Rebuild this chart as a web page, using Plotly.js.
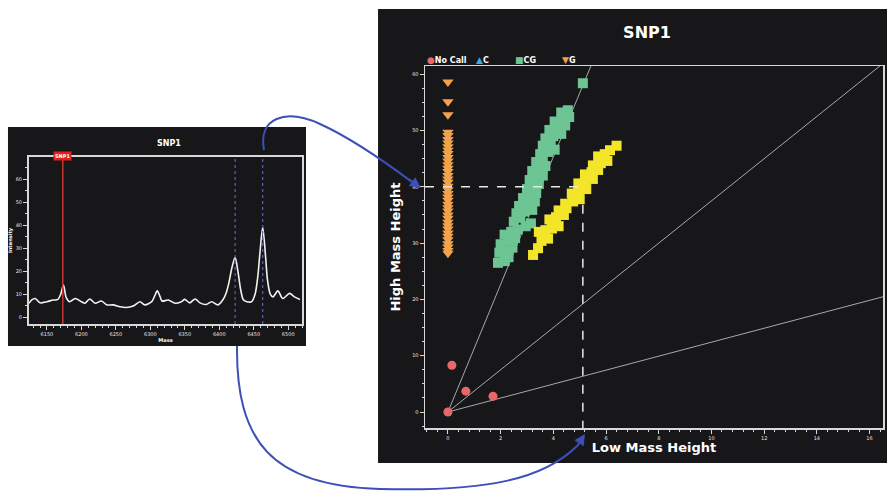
<!DOCTYPE html>
<html><head><meta charset="utf-8">
<script src="https://cdn.plot.ly/plotly-3.0.1.min.js"></script>
<style>html,body{margin:0;padding:0;background:#fff;}#chart{width:887px;height:491px;}</style>
</head><body><div id="chart"></div>
<script>
// ---------- Left panel: mass spectrum ----------
const specMass = [6124,6128,6133,6140,6150,6159,6166,6170,6174,6178,6183,6191,6200,6205,6212,6220,6229,6237,6246,6256,6265,6275,6285,6292,6302,6306,6310,6314,6317,6326,6336,6345,6350,6357,6365,6372,6381,6389,6398,6405,6410,6414,6418,6423,6427,6431,6435,6440,6447,6452,6456,6459,6463,6467,6470,6474,6478,6485,6492,6502,6509,6517];
const specIntensity = [6.0,7.5,8.1,6.2,6.7,7.4,7.7,10.0,13.9,8.5,6.7,8.1,6.7,6.0,7.9,6.0,7.0,5.3,5.3,4.5,4.2,4.8,6.7,5.3,6.7,9.0,11.4,9.0,7.0,7.4,6.0,6.7,7.7,6.2,7.9,6.2,5.5,6.7,5.3,7.4,10.5,15.0,21.0,26.0,20.0,12.0,7.5,6.7,6.7,10.0,18.0,28.0,39.0,27.0,16.0,10.0,8.8,11.4,8.1,10.3,8.8,7.7];
const snpMass = 6173;
const peakMasses = [6423, 6463];
const massTicks = [6150,6200,6250,6300,6350,6400,6450,6500];
const intensityTicks = [0,10,20,30,40,50,60];

// ---------- Right panel: cluster plot ----------
const noCallX = [0, 0.15, 0.68, 1.71];
const noCallY = [0, 8.3, 3.7, 2.8];
const cX = [];
const cY = [];
const cgX = [1.9,2.15,2.3,1.95,2.2,2.45,2.0,2.3,2.55,2.15,2.4,2.65,2.95,3.15,2.5,2.75,2.6,2.9,3.2,2.7,3.0,3.3,2.85,3.1,3.35,3.0,3.25,3.45,3.1,3.35,3.6,3.2,3.45,3.7,3.35,3.6,3.5,3.8,4.05,3.6,3.9,3.7,4.0,4.3,3.85,4.15,4.45,4.05,4.35,4.6,4.3,4.55,5.12];
const cgY = [26.5,26.8,27.5,28.3,28.6,29.2,29.8,30.4,30.9,31.5,32.0,32.4,33.0,33.5,33.8,34.5,35.3,35.6,35.9,36.6,37.0,37.4,38.0,38.5,38.9,39.6,40.1,40.5,41.2,41.7,42.0,42.8,43.3,43.7,44.4,44.9,45.8,46.2,46.6,47.3,47.8,48.6,49.0,49.4,50.1,50.5,50.9,51.6,52.0,52.4,53.2,53.6,58.4];
const cg2X = [3.23,3.42,3.55,3.8,3.45,3.7,3.95,4.2,3.85,4.1,4.4,4.2,4.5,4.45,4.75,5.0,4.7,4.95,5.25,4.95,5.2,5.5,5.2,5.45,5.7,5.5,5.8,6.05,5.7,5.95,6.15,6.4];
const cg2Y = [27.9,29.1,30.4,30.8,32.0,32.3,32.6,33.0,34.2,34.6,35.0,35.8,36.2,37.0,37.4,37.8,38.8,39.2,39.6,40.6,41.0,41.4,42.2,42.6,43.0,43.8,44.2,44.6,45.4,45.8,46.5,47.3];
const gY = [58.6,55.1,52.8,49.7,49.1,48.4,47.8,47.1,46.5,45.9,45.2,44.6,43.9,43.3,42.7,42.0,41.4,40.8,40.1,39.5,38.8,38.2,37.6,36.9,36.3,35.7,35.0,34.4,33.7,33.1,32.5,31.8,31.2,30.6,29.9,29.3,28.7,28.2];
const gX = [0,0,0,0,0,0,0,0,0,0,0,0,0,0,0,0,0,0,0,0,0,0,0,0,0,0,0,0,0,0,0,0,0,0,0,0,0,0];
const boundarySlopes = [11.33, 3.75, 1.24];
const crossLow = 5.12;
const crossHigh = 40;
const lowTicks = [0,2,4,6,8,10,12,14,16];
const highTicks = [0,10,20,30,40,50,60];
const legendNames = ['No Call', 'C', 'CG', 'G'];
const legendGlyphs = ['●', '▲', '■', '▼'];
const legendColors = ['#e8676a', '#3fa9e0', '#6cc593', '#f2a24a'];

// ---------- geometry helpers ----------
const W = 887, H = 491;
const px = (x) => (x / W).toFixed(4);
const py = (y) => (1 - y / H).toFixed(4);
function path(cmds) {
  return cmds.map(c => c[0] + ' ' + c.slice(1).map((v, i) => i % 2 === 0 ? px(v) : py(v)).join(' ')).join(' ');
}
const BG = '#17171a';
const FR = '#d8d8d8';
const BLUE = '#3d4fb8';
const xR2 = [-0.87, 16.51], yR2 = [-2.84, 61.46];
const xR1 = [6124, 6520], yR1 = [-3.0, 69.6];

const traces = [];
boundarySlopes.forEach(s => {
  traces.push({x: [0, xR2[1]], y: [0, s * xR2[1]], type: 'scatter', mode: 'lines', xaxis: 'x2', yaxis: 'y2',
    showlegend: false, hoverinfo: 'skip', line: {color: '#a8a8a8', width: 1}});
});
traces.push(
  {x: noCallX, y: noCallY, name: 'No Call', type: 'scatter', mode: 'markers', xaxis: 'x2', yaxis: 'y2', showlegend: false,
   marker: {symbol: 'circle', size: 9, color: legendColors[0]}},
  {x: cX, y: cY, name: 'C', type: 'scatter', mode: 'markers', xaxis: 'x2', yaxis: 'y2', showlegend: false,
   marker: {symbol: 'triangle-up', size: 9, color: legendColors[1]}},
  {x: cgX, y: cgY, name: 'CG', type: 'scatter', mode: 'markers', xaxis: 'x2', yaxis: 'y2', showlegend: false,
   marker: {symbol: 'square', size: 10, color: legendColors[2]}},
  {x: gX, y: gY, name: 'G', type: 'scatter', mode: 'markers', xaxis: 'x2', yaxis: 'y2', showlegend: false,
   marker: {symbol: 'triangle-down', size: 10, color: legendColors[3]}},
  {x: cg2X, y: cg2Y, name: 'CG (2)', type: 'scatter', mode: 'markers', xaxis: 'x2', yaxis: 'y2', showlegend: false,
   marker: {symbol: 'square', size: 10, color: '#f3e62a'}}
);

traces.push({x: specMass, y: specIntensity, type: 'scatter', mode: 'lines', xaxis: 'x', yaxis: 'y', showlegend: false,
  line: {color: '#f2f2f2', width: 1.6, shape: 'spline', smoothing: 0.8}});
traces.push({x: peakMasses, y: peakMasses.map(() => yR1[1] + 1.6), type: 'scatter', mode: 'markers', xaxis: 'x', yaxis: 'y',
  showlegend: false, cliponaxis: false, marker: {color: BLUE, size: 5}});

const shapes = [
  {type: 'rect', xref: 'paper', yref: 'paper', x0: px(8), x1: px(306), y0: py(346), y1: py(127), fillcolor: BG, line: {width: 0}, layer: 'below'},
  {type: 'rect', xref: 'paper', yref: 'paper', x0: px(378), x1: px(887), y0: py(463), y1: py(9), fillcolor: BG, line: {width: 0}, layer: 'below'},
  {type: 'line', xref: 'x', yref: 'y', x0: snpMass, x1: snpMass, y0: yR1[0], y1: yR1[1] + 1.5, line: {color: '#c8372d', width: 1.5}},
  {type: 'line', xref: 'x2', yref: 'y2', x0: xR2[0], x1: crossLow, y0: crossHigh, y1: crossHigh, line: {color: '#e8e8e8', width: 1.5, dash: 'dash'}},
  {type: 'line', xref: 'x2', yref: 'y2', x0: crossLow, x1: crossLow, y0: 36.8, y1: yR2[0], line: {color: '#e8e8e8', width: 1.5, dash: 'dash'}},
  {type: 'path', xref: 'paper', yref: 'paper', line: {color: BLUE, width: 2},
   path: path([['M', 264, 150], ['C', 258, 118, 285, 108, 320, 124], ['S', 388, 164, 412, 182]])},
  {type: 'path', xref: 'paper', yref: 'paper', line: {color: BLUE, width: 2},
   path: path([['M', 237, 346], ['C', 236, 440, 270, 486, 380, 489], ['S', 545, 478, 577, 446]])},
];
peakMasses.forEach(m => shapes.push({type: 'line', xref: 'x', yref: 'y', x0: m, x1: m, y0: yR1[0], y1: yR1[1] + 1.5,
  line: {color: '#5060d8', width: 1.2, dash: 'dot'}}));

const annotations = [
  {xref: 'paper', yref: 'paper', x: px(155), y: py(137), text: '<b>SNP1</b>', showarrow: false,
   font: {family: 'DejaVu Sans', size: 8, color: '#ffffff'}},
  {xref: 'x', yref: 'paper', x: snpMass, y: py(151), text: '<b>SNP1</b>', showarrow: false, bgcolor: '#e02020',
   font: {family: 'DejaVu Sans', size: 5, color: '#ffffff'}, borderpad: 1},
  {xref: 'paper', yref: 'paper', x: px(421), y: py(188), ax: -14, ay: -10, text: '', showarrow: true,
   arrowhead: 2, arrowsize: 1.1, arrowwidth: 2, arrowcolor: BLUE},
  {xref: 'paper', yref: 'paper', x: px(585), y: py(434), ax: -9, ay: 14, text: '', showarrow: true,
   arrowhead: 2, arrowsize: 1.1, arrowwidth: 2, arrowcolor: BLUE},
];
const legendX = [425, 474, 513, 560];
legendNames.forEach((n, i) => annotations.push({
  xref: 'paper', yref: 'paper', x: px(legendX[i]), y: py(60), xanchor: 'left', yanchor: 'middle', showarrow: false,
  text: '<span style="color:' + legendColors[i] + ';font-size:9px">' + legendGlyphs[i] + '</span><b>' + n + '</b>',
  font: {family: 'DejaVu Sans', size: 8, color: '#ffffff'}
}));

const tickFontS = {family: 'DejaVu Sans', size: 5, color: '#e6e6e6'};
const layout = {
  width: W, height: H,
  margin: {l: 0, r: 0, t: 0, b: 0},
  paper_bgcolor: '#ffffff', plot_bgcolor: BG,
  title: {text: '<b>SNP1</b>', x: 647 / W, y: 1 - 32 / H, xanchor: 'center', yanchor: 'middle',
          font: {family: 'DejaVu Sans', size: 16, color: '#ffffff'}},
  showlegend: false,
  xaxis: {domain: [29 / W, 302 / W], range: xR1, anchor: 'y', tickvals: massTicks, ticks: 'outside', ticklen: 4,
          tickcolor: FR, showgrid: false, zeroline: false, showline: true, mirror: true, linecolor: FR, linewidth: 2,
          tickfont: tickFontS, minor: {dtick: 10, ticks: 'outside', ticklen: 2, tickcolor: FR},
          title: {text: '<b>Mass</b>', font: {family: 'DejaVu Sans', size: 5, color: '#fff'}, standoff: 2}},
  yaxis: {domain: [1 - 324 / H, 1 - 157 / H], range: yR1, anchor: 'x', tickvals: intensityTicks, ticks: 'outside', ticklen: 4,
          tickcolor: FR, showgrid: false, zeroline: false, showline: true, mirror: true, linecolor: FR, linewidth: 2,
          tickfont: tickFontS, minor: {dtick: 5, ticks: 'outside', ticklen: 2, tickcolor: FR},
          title: {text: '<b>Intensity</b>', font: {family: 'DejaVu Sans', size: 5, color: '#fff'}, standoff: 3}},
  xaxis2: {domain: [425 / W, 883 / W], range: xR2, anchor: 'y2', tickvals: lowTicks, ticks: 'outside', ticklen: 4,
           tickcolor: FR, showgrid: false, zeroline: false, showline: true, mirror: true, linecolor: FR, linewidth: 1.5,
           tickfont: tickFontS, minor: {dtick: 0.4, ticks: 'outside', ticklen: 2, tickcolor: FR},
           title: {text: '<b>Low Mass Height</b>', font: {family: 'DejaVu Sans', size: 13, color: '#ffffff'}, standoff: 3}},
  yaxis2: {domain: [1 - 428 / H, 1 - 66 / H], range: yR2, anchor: 'x2', tickvals: highTicks, ticks: 'outside', ticklen: 4,
           tickcolor: FR, showgrid: false, zeroline: false, showline: true, mirror: true, linecolor: FR, linewidth: 1.5,
           tickfont: tickFontS, minor: {dtick: 2.5, ticks: 'outside', ticklen: 2, tickcolor: FR},
           title: {text: '<b>High Mass Height</b>', font: {family: 'DejaVu Sans', size: 13, color: '#ffffff'}, standoff: 8}},
  shapes: shapes,
  annotations: annotations,
};
Plotly.newPlot('chart', traces, layout, {staticPlot: true, displayModeBar: false});
</script></body></html>
